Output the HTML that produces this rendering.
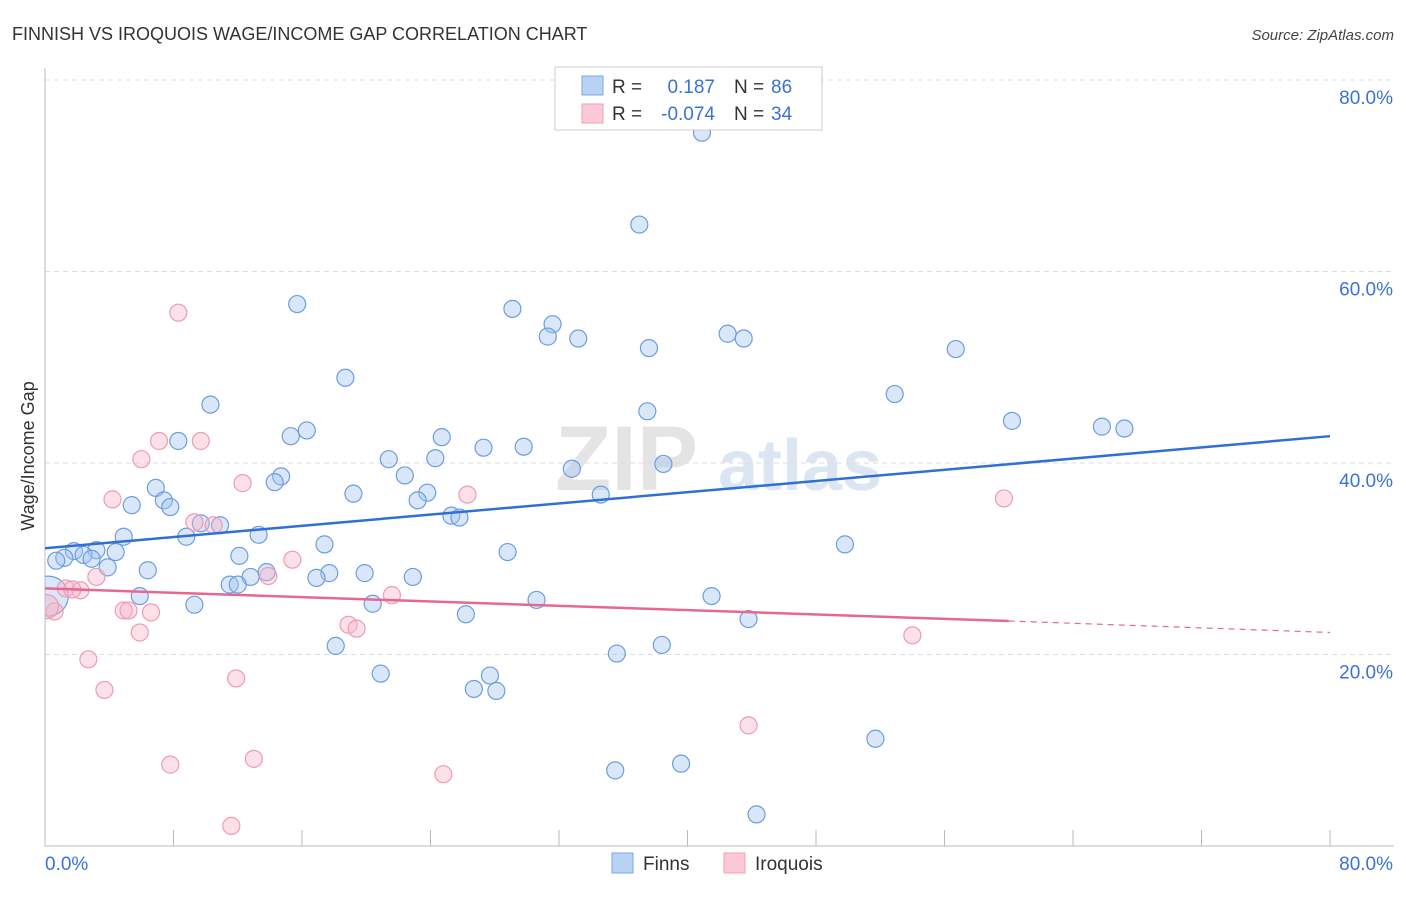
<!DOCTYPE html>
<html><head><meta charset="utf-8"><style>
body{margin:0;background:#fff;font-family:"Liberation Sans",sans-serif;}
svg text{font-family:"Liberation Sans",sans-serif;}
</style></head><body>
<svg id="chart" width="1406" height="892" xmlns="http://www.w3.org/2000/svg">
<defs><clipPath id="plotclip"><rect x="45" y="60" width="1300" height="786"/></clipPath></defs>
<text x="12" y="40" font-size="18" fill="#333">FINNISH VS IROQUOIS WAGE/INCOME GAP CORRELATION CHART</text>
<text x="1394" y="40" font-size="15" fill="#444" font-style="italic" text-anchor="end">Source: ZipAtlas.com</text>
<g>
<text x="555" y="490" font-size="92" fill="#e4e4e4" font-family="Liberation Serif" font-weight="bold">ZIP</text>
<text x="718" y="490" font-size="72" fill="#dce6f3" font-weight="bold">atlas</text>
</g>
<g id="grid"></g>
<g id="axes"></g>
<g id="marks" clip-path="url(#plotclip)"></g>
<g>
<rect x="555" y="67" width="267" height="63" fill="#fff" stroke="#ccc"/>
<rect x="582" y="76" width="21" height="19" fill="#b9d3f5" stroke="#7aa6e6"/>
<rect x="582" y="104" width="21" height="19" fill="#fcc9d6" stroke="#f0a0b6"/>
<text x="612" y="93" font-size="19" fill="#333">R = </text>
<text x="715" y="93" font-size="19" fill="#3b72d9" text-anchor="end">0.187</text>
<text x="734" y="93" font-size="19" fill="#333">N = </text>
<text x="771" y="93" font-size="19" fill="#3b72d9">86</text>
<text x="612" y="120" font-size="19" fill="#333">R = </text>
<text x="715" y="120" font-size="19" fill="#3b72d9" text-anchor="end">-0.074</text>
<text x="734" y="120" font-size="19" fill="#333">N = </text>
<text x="771" y="120" font-size="19" fill="#3b72d9">34</text>
</g>
<g>
<rect x="612" y="853" width="21" height="20" fill="#b9d3f5" stroke="#7aa6e6"/>
<text x="643" y="870" font-size="19" fill="#333">Finns</text>
<rect x="724" y="853" width="21" height="20" fill="#fcc9d6" stroke="#f0a0b6"/>
<text x="755" y="870" font-size="19" fill="#333">Iroquois</text>
</g>
<text transform="translate(34,456) rotate(-90)" font-size="18" fill="#333" text-anchor="middle">Wage/Income Gap</text>
</svg>
<script>
const finnsX=[40.9,37.0,15.7,29.1,31.6,31.3,33.2,37.6,42.5,43.5,56.7,18.7,52.9,10.3,37.5,60.2,65.8,67.2,15.3,16.3,24.7,8.3,27.3,29.8,21.4,24.3,38.5,32.8,22.4,14.7,14.3,6.9,19.2,23.8,23.2,34.6,7.4,5.4,7.8,25.3,25.8,9.7,10.9,4.9,8.8,13.3,17.4,49.8,28.8,1.8,3.2,4.4,2.4,1.2,2.9,0.7,12.1,3.9,6.4,13.8,17.7,19.9,16.9,22.9,12.8,11.5,12.0,5.9,30.6,41.5,9.3,20.4,26.2,43.8,18.1,35.6,38.4,20.9,27.7,26.7,28.1,51.7,35.5,39.6,44.3,0.2];
const finnsY=[74.5,64.9,56.6,56.1,54.5,53.2,53.0,52.0,53.5,53.0,51.9,48.9,47.2,46.1,45.4,44.4,43.8,43.6,42.8,43.4,42.7,42.3,41.6,41.7,40.4,40.5,39.9,39.4,38.7,38.6,38.0,37.4,36.8,36.9,36.1,36.7,36.1,35.6,35.4,34.5,34.3,33.7,33.5,32.3,32.3,32.5,31.5,31.5,30.7,30.8,30.9,30.7,30.4,30.1,30.0,29.8,30.3,29.1,28.8,28.6,28.5,28.5,28.0,28.1,28.1,27.3,27.3,26.1,25.7,26.1,25.2,25.3,24.2,23.7,20.9,20.1,21.0,18.0,17.8,16.4,16.2,11.2,7.9,8.6,3.3,26.1];
const iroqX=[8.3,9.7,7.1,6.0,12.3,26.3,59.7,4.2,9.3,10.5,15.4,3.2,13.9,1.3,2.2,1.7,21.6,4.9,5.2,6.6,0.6,0.1,18.9,19.4,5.9,54.0,2.7,11.9,3.7,43.8,13.0,7.8,24.8,11.6];
const iroqY=[55.7,42.3,42.3,40.4,37.9,36.7,36.3,36.2,33.8,33.5,29.9,28.1,28.2,26.9,26.7,26.8,26.2,24.6,24.6,24.4,24.5,25.0,23.1,22.7,22.3,22.0,19.5,17.5,16.3,12.6,9.1,8.5,7.5,2.1];
const finnsTrend=[31.1,42.8]; // at x=0 and x=80
const iroqTrend=[26.9,23.5,22.3]; // at x=0, x=60, x=80
const yTicks=[20,40,60,80];
const xTickLabels=["0.0%","80.0%"];
const NS="http://www.w3.org/2000/svg";
function sx(v){return 45+v*(1330-45)/80;}
function sy(v){return 846-v*(846-80)/80;}
function mk(tag,attrs,parent){const e=document.createElementNS(NS,tag);for(const k in attrs)e.setAttribute(k,attrs[k]);parent.appendChild(e);return e;}
const grid=document.getElementById('grid'),axes=document.getElementById('axes'),marks=document.getElementById('marks');
yTicks.forEach(t=>{
 const l=mk('line',{x1:45,x2:1394,y1:sy(t),y2:sy(t),stroke:'#ddd','stroke-dasharray':'5,4'},grid);
 
 
 const tx=mk('text',{x:1393,y:sy(t)+24,'font-size':19,fill:'#3b72d9','text-anchor':'end'},axes);
 tx.textContent=t.toFixed(1)+'%';
 
 
});
const ax=mk('line',{x1:45,x2:1394,y1:846,y2:846,stroke:'#bbb'},axes);


const ay=mk('line',{x1:45,x2:45,y1:68,y2:846,stroke:'#bbb'},axes);


for(let i=1;i<=10;i++){const v=i*8;const t=mk('line',{x1:sx(v),x2:sx(v),y1:830,y2:846,stroke:'#bbb'},axes);
 
 }
const xl0=mk('text',{x:45,y:870,'font-size':19,fill:'#3b72d9'},axes);xl0.textContent=xTickLabels[0];


const xl1=mk('text',{x:1393,y:870,'font-size':19,fill:'#3b72d9','text-anchor':'end'},axes);xl1.textContent=xTickLabels[1];


finnsX.forEach((x,i)=>{const big=i===finnsX.length-1;
 const c=mk('circle',{cx:sx(x),cy:sy(finnsY[i]),r:big?20:8.5,fill:'rgba(160,196,240,0.4)',stroke:'#6c9de2','stroke-width':1.2},marks);
 
 });
iroqX.forEach((x,i)=>{const big=i===iroqX.length-13;
 const c=mk('circle',{cx:sx(x),cy:sy(iroqY[i]),r:big?12:8.5,fill:'rgba(248,180,200,0.4)',stroke:'#f09ab4','stroke-width':1.2},marks);
 
 });
const bl=mk('line',{x1:sx(0),y1:sy(finnsTrend[0]),x2:sx(80),y2:sy(finnsTrend[1]),stroke:'#2f6fd6','stroke-width':2.5},marks);


const pl=mk('line',{x1:sx(0),y1:sy(iroqTrend[0]),x2:sx(60),y2:sy(iroqTrend[1]),stroke:'#e8678f','stroke-width':2.5},marks);


const pd=mk('line',{x1:sx(60),y1:sy(iroqTrend[1]),x2:sx(80),y2:sy(iroqTrend[2]),stroke:'#e8678f','stroke-width':1.2,'stroke-dasharray':'6,5'},marks);


</script>
</body></html>
